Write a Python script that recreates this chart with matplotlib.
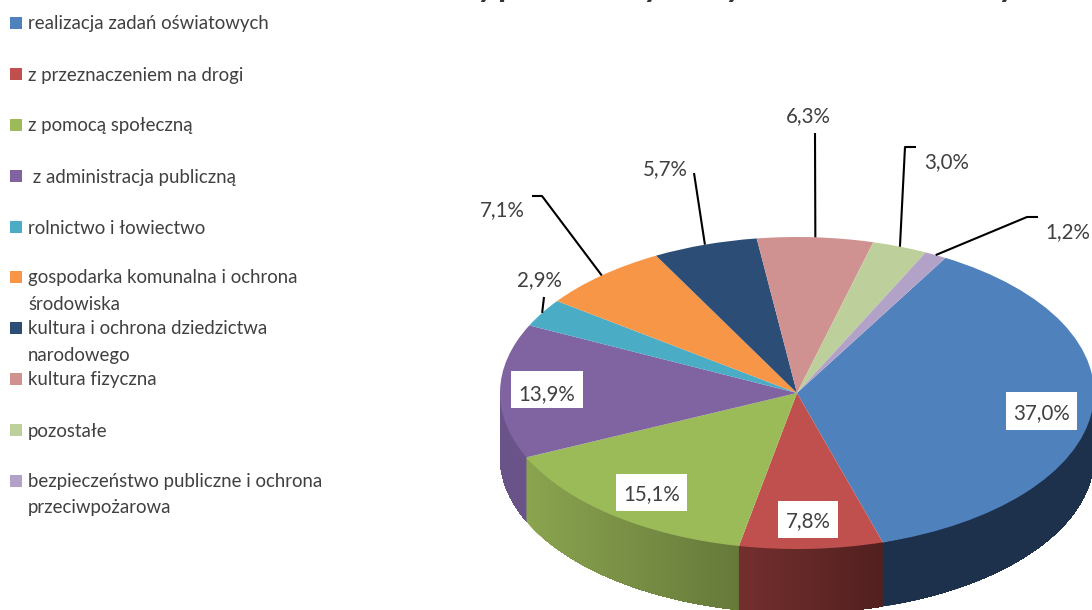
import numpy as np
import matplotlib
matplotlib.use("Agg")
import matplotlib.pyplot as plt
from matplotlib.colors import to_rgb
from matplotlib.patches import Rectangle

categories = ["realizacja zadań oświatowych", "z przeznaczeniem na drogi", "z pomocą społeczną",
              " z administracja publiczną", "rolnictwo i łowiectwo",
              "gospodarka komunalna i ochrona\nśrodowiska", "kultura i ochrona dziedzictwa\nnarodowego",
              "kultura fizyczna", "pozostałe",
              "bezpieczeństwo publiczne i ochrona\nprzeciwpożarowa"]
values = [37.0, 7.8, 15.1, 13.9, 2.9, 7.1, 5.7, 6.3, 3.0, 1.2]
labels = ["37,0%", "7,8%", "15,1%", "13,9%", "2,9%", "7,1%", "5,7%", "6,3%", "3,0%", "1,2%"]
colors = ["#4F81BD", "#C0504D", "#9BBB59", "#8064A2", "#4BACC6", "#F79646", "#2C4D75", "#D09291", "#BDD09B", "#B3A2C7"]
wall_left = ["#1D314D", "#732F2E", "#8AA44F", "#6A5389", "#3C8CA0", "#C87830", "#203858", "#A87070", "#98A878", "#9080A0"]
wall_right = ["#1D314D", "#51201F", "#66793A", "#6A5389", "#3C8CA0", "#C87830", "#203858", "#A87070", "#98A878", "#9080A0"]

W, H = 1092, 610
CX, CY, RX, RY, DEPTH = 797, 393, 297, 156, 64
START = 30.0

plt.rcParams['font.family'] = ['Lato', 'DejaVu Sans']
fig = plt.figure(figsize=(W/100, H/100), dpi=100)
ax = fig.add_axes([0, 0, 1, 1])
TXT = "#404040"

def dx(px): return (px-CX)/RX
def dy(py): return (CY-py)/RY

wedges, _ = ax.pie(values, colors=colors, startangle=90-START, counterclock=False, radius=1,
                   wedgeprops=dict(linewidth=0), center=(0, 0))
ax.set_aspect('auto')
ax.set_xlim(dx(0), dx(W))
ax.set_ylim(dy(H), dy(0))
ax.axis('off')
for w in wedges:
    w.set_zorder(5)

total = sum(values)
edges = START + np.cumsum([0]+values)/total*360
mids = (edges[:-1]+edges[1:])/2
depth = DEPTH/RY

def rim(a):
    r = np.radians(a)
    return np.sin(r), np.cos(r)

# side wall: overlapping vertical strips along the visible front rim, drawn from the left
for i in range(len(values)-1, -1, -1):
    a0, a1 = edges[i], edges[i+1]
    lo, hi = max(a0, 90), min(a1, 270)
    if lo >= hi:
        continue
    ang = np.linspace(lo, hi, 200)
    c0 = np.array(to_rgb(wall_left[i]))
    c1 = np.array(to_rgb(wall_right[i]))
    xs, ys = rim(ang)
    xmin, xmax = xs.min(), xs.max()
    # from the wedge's left end to its right end; each strip runs to the wedge's right end
    for j in range(len(ang)-1, 0, -1):
        t = (xs[j]-xmin)/(xmax-xmin)
        col = c0*(1-t) + c1*t
        xa, ya = xs[:j+1], ys[:j+1]
        ax.fill(np.r_[xa, xa[::-1]], np.r_[ya, ya[::-1]-depth], color=tuple(col), lw=0, zorder=3) if j % 1 == 0 else None

# outside labels with leader lines
outer = {4: (539, 280, [(544, 297)]),
         5: (502, 210, [(542, 196), (532, 196)]),
         6: (665, 169, [(694, 173)]),
         7: (808, 116, [(815, 133)]),
         8: (947, 162, [(905, 147), (916, 147)]),
         9: (1068, 232, [(1027, 217), (1038, 217)])}
for i, (lx, ly, pts) in outer.items():
    x0, y0 = rim(mids[i])
    xs = [x0] + [dx(p[0]) for p in pts]
    ys = [y0] + [dy(p[1]) for p in pts]
    ax.plot(xs, ys, color="black", lw=1.5, zorder=6, solid_capstyle='butt')
    ax.text(dx(lx), dy(ly), labels[i], fontsize=14.8, color=TXT, ha='center', va='center', zorder=7)

# inside labels on white boxes (left, right, top, bottom, text centre y in pixels)
inner = {0: (1006, 1077, 392, 430, 413), 1: (778, 838, 501, 538, 521),
         2: (616, 687, 474, 511, 494), 3: (511, 583, 371, 408, 394)}
for i, (x0, x1, y0, y1, ty) in inner.items():
    ax.add_patch(Rectangle((dx(x0), dy(y1)), (x1-x0)/RX, (y1-y0)/RY, fc='white', ec='none', zorder=6.5))
    ax.text(dx((x0+x1)/2), dy(ty), labels[i], fontsize=14.8, color=TXT, ha='center', va='center', zorder=7)

# legend
swatch_y = [23, 74, 125, 176, 227, 277, 328, 379, 430, 481]
for i, name in enumerate(categories):
    sy = swatch_y[i]
    ax.add_patch(Rectangle((dx(10), dy(sy+6)), 12/RX, 12/RY, fc=colors[i], ec='none', zorder=7))
    for k, ln in enumerate(name.split('\n')):
        ax.text(dx(28), dy(sy+1+k*26), ln, fontsize=13.4, color=TXT, ha='left', va='center', zorder=7)

# clipped remains of the title
for ch, px in zip("ypyyy", [486, 507, 652, 734, 1007]):
    ax.text(dx(px), dy(-12), ch, fontsize=24, fontweight='bold', color="#333333", ha='center', va='center', zorder=7)

fig.savefig("out.png", dpi=100)
